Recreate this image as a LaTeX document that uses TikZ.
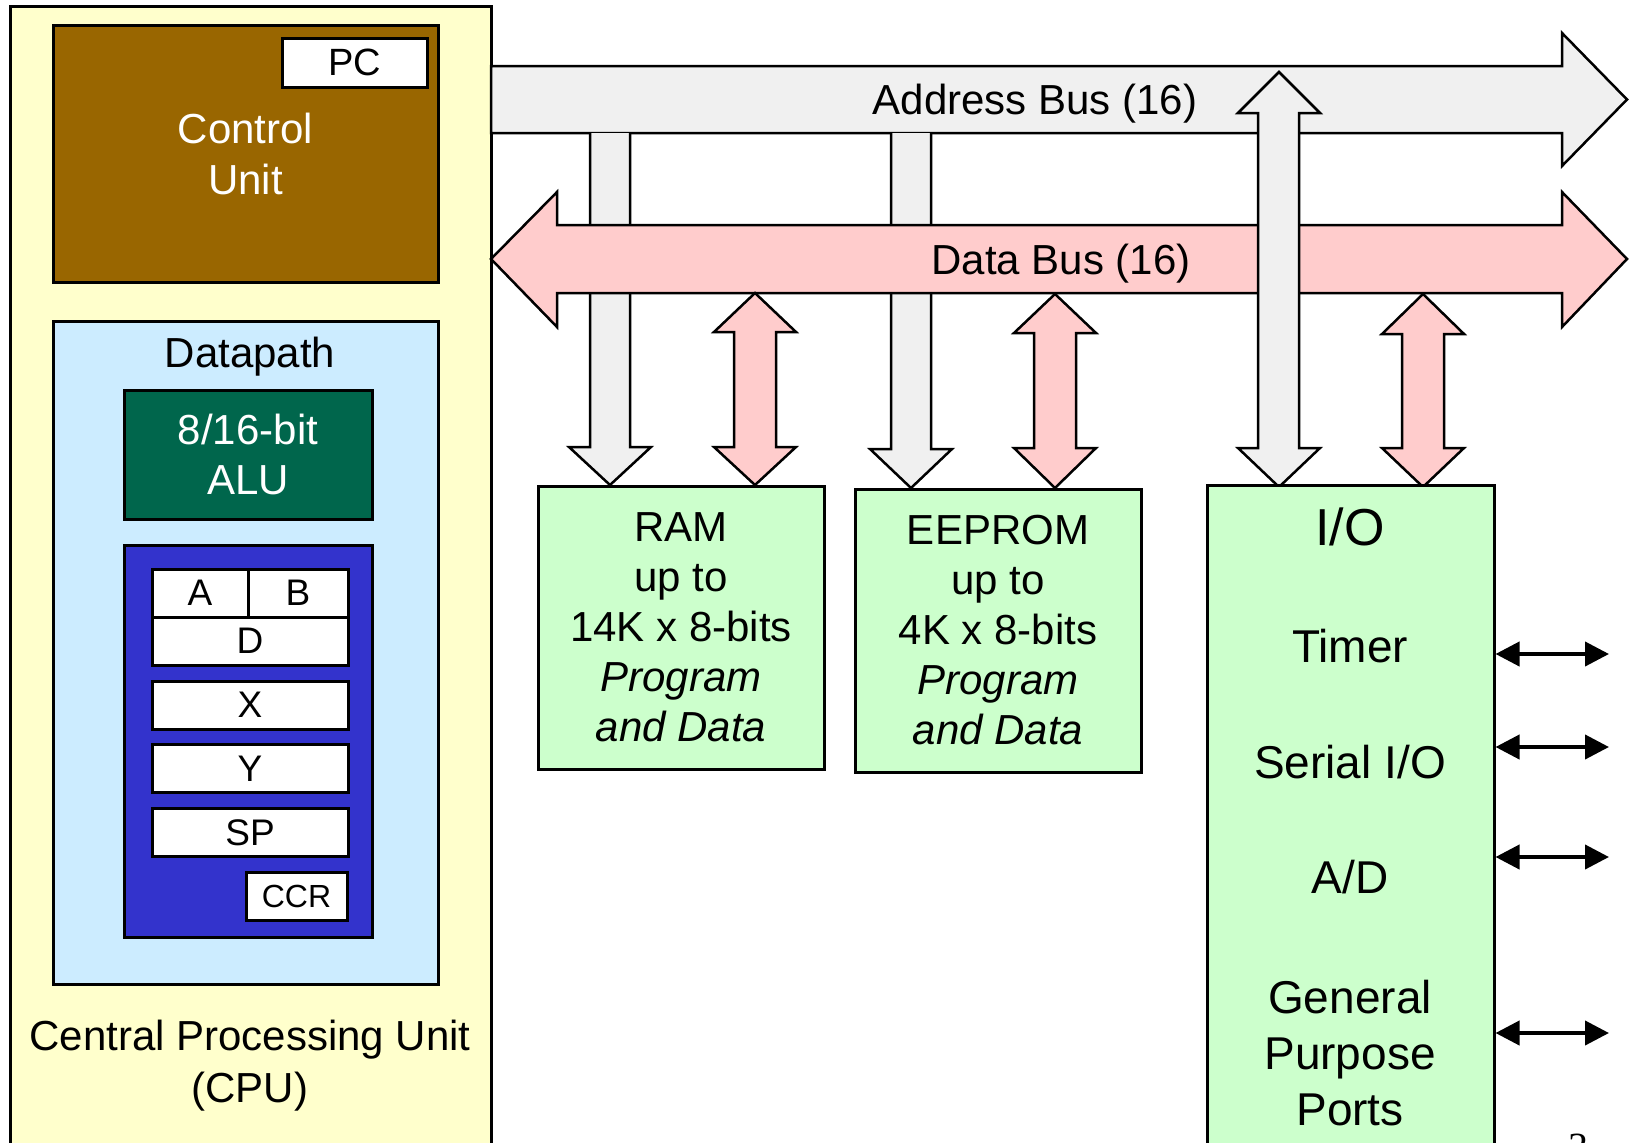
\documentclass[tikz,border=0pt]{standalone}
\usepackage{fontspec}
\setmainfont{Liberation Sans}
\newfontfamily\pagenumfont{Liberation Serif}
\usetikzlibrary{arrows.meta}

\definecolor{cpuyellow}{HTML}{FFFFCC}
\definecolor{cubrown}{HTML}{996600}
\definecolor{dpblue}{HTML}{CCECFF}
\definecolor{alugreen}{HTML}{00664C}
\definecolor{regblue}{HTML}{3333CC}
\definecolor{memgreen}{HTML}{CCFFCC}
\definecolor{addrgrey}{HTML}{F0F0F0}
\definecolor{datapink}{HTML}{FFCCCC}

\begin{document}
\begin{tikzpicture}[x=1pt,y=-1pt]
\tikzstyle{block} = [draw=black, line width=3pt, inner sep=0pt, align=center]
\tikzstyle{reg} = [block, fill=white, minimum height=48pt, font=\fontsize{37}{44}\selectfont]
\tikzstyle{memory} = [block, fill=memgreen, minimum width=286pt, minimum height=283pt, font=\fontsize{42}{50}\selectfont]
\tikzstyle{cputext} = [inner sep=0pt, align=center, font=\fontsize{42}{52}\selectfont]
\tikzstyle{iotext} = [inner sep=0pt, align=center, font=\fontsize{46}{56}\selectfont]
\tikzstyle{addrbus} = [draw=black, line width=2.5pt, fill=addrgrey, line join=miter]
\tikzstyle{databus} = [draw=black, line width=2.5pt, fill=datapink, line join=miter]
\tikzstyle{pinline} = [line width=4pt, {Triangle[length=24pt,width=24pt]}-{Triangle[length=24pt,width=24pt]}]

\useasboundingbox (0,0) rectangle (1631,1143);

% CPU
\node[block, fill=cpuyellow, minimum width=481pt, minimum height=1154pt] (cpu) at (250.5,583) {};
\node[block, fill=cubrown, minimum width=385pt, minimum height=257pt, text=white, font=\fontsize{42}{51}\selectfont] (cu) at (245.5,153.5) {Control\\Unit};
\node[block, fill=white, minimum width=145pt, minimum height=49pt, font=\fontsize{38}{44}\selectfont] (pc) at (354.5,62.5) {PC};
\node[block, fill=dpblue, minimum width=385pt, minimum height=663pt] (dp) at (245.5,652.5) {};
\node[cputext, anchor=base] (dplabel) at (250,367) {Datapath};
\node[block, fill=alugreen, minimum width=248pt, minimum height=129pt, text=white, font=\fontsize{42}{50}\selectfont] (alu) at (248,454.5) {8/16-bit\\ALU};
\node[block, fill=regblue, minimum width=248pt, minimum height=392pt] (regs) at (248,741) {};
\node[reg, minimum width=96pt] (rA) at (200,593) {A};
\node[reg, minimum width=100pt] (rB) at (298,593) {B};
\node[reg, minimum width=196pt] (rD) at (250,641) {D};
\node[reg, minimum width=196pt] (rX) at (250,705) {X};
\node[reg, minimum width=196pt] (rY) at (250,768.5) {Y};
\node[reg, minimum width=196pt] (rSP) at (250,832.5) {SP};
\node[reg, minimum width=101pt, font=\fontsize{32}{38}\selectfont] (rCCR) at (296.5,896.5) {CCR};
\node[cputext] (cpulabel) at (250,1066) {Central Processing Unit\\(CPU)};

% address bus
\draw[addrbus] (491,66) -- (1562,66) -- (1562,33) -- (1627,99.5) -- (1562,166) -- (1562,133) -- (491,133) -- cycle;
\node[cputext, anchor=base] (abuslabel) at (1035,114) {Address Bus (16)};
\draw[addrbus] (590,133) -- (590,447) -- (569,447) -- (610,485) -- (651,447) -- (630,447) -- (630,133);
\draw[addrbus] (891,133) -- (891,449) -- (870,449) -- (911,488) -- (952,449) -- (931,449) -- (931,133);

% data bus
\draw[databus] (491,259) -- (557,192) -- (557,225) -- (1562,225) -- (1562,192) -- (1627,259) -- (1562,327) -- (1562,293) -- (557,293) -- (557,327) -- cycle;
\node[cputext, anchor=base] (dbuslabel) at (1061,274) {Data Bus (16)};
\draw[databus] (755,293) -- (796,332) -- (776,332) -- (776,447) -- (796,447) -- (755,485) -- (714,447) -- (734,447) -- (734,332) -- (714,332) -- cycle;
\draw[databus] (1055,294) -- (1096,333) -- (1076,333) -- (1076,448) -- (1096,448) -- (1055,488) -- (1014,448) -- (1034,448) -- (1034,333) -- (1014,333) -- cycle;
\draw[databus] (1423,294) -- (1464,334) -- (1444,334) -- (1444,448) -- (1464,448) -- (1423,487) -- (1382,448) -- (1402,448) -- (1402,334) -- (1382,334) -- cycle;
\draw[addrbus] (1279,72) -- (1320,113) -- (1299,113) -- (1299,448) -- (1320,448) -- (1279,487) -- (1238,448) -- (1258,448) -- (1258,113) -- (1238,113) -- cycle;

% memories and I/O
\node[memory] (ram) at (681,627.5) {RAM\\up to\\14K x 8-bits\\\textit{Program}\\\textit{and Data}};
\node[memory] (eeprom) at (998,630.5) {EEPROM\\up to\\4K x 8-bits\\\textit{Program}\\\textit{and Data}};
\node[block, fill=memgreen, minimum width=287pt, minimum height=675pt] (io) at (1350.5,822.5) {};
\node[iotext, font=\fontsize{52}{60}\selectfont, anchor=base] (iotitle) at (1350,545) {I/O};
\node[iotext, anchor=base] (timer) at (1350,662) {Timer};
\node[iotext, anchor=base] (serial) at (1350,778) {Serial I/O};
\node[iotext, anchor=base] (adc) at (1350,893) {A/D};
\node[iotext] (gpp) at (1350,1053) {General\\Purpose\\Ports};

\coordinate (timerpin) at (1609,654);
\coordinate (serialpin) at (1609,747);
\coordinate (adcpin) at (1609,857);
\coordinate (gpppin) at (1609,1033);
\draw[pinline] (io.east |- timerpin) -- (timerpin);
\draw[pinline] (io.east |- serialpin) -- (serialpin);
\draw[pinline] (io.east |- adcpin) -- (adcpin);
\draw[pinline] (io.east |- gpppin) -- (gpppin);

\node[inner sep=0pt, anchor=north, font=\pagenumfont\fontsize{40}{40}\selectfont] (pagenum) at (1578,1134) {3};
\end{tikzpicture}
\end{document}
